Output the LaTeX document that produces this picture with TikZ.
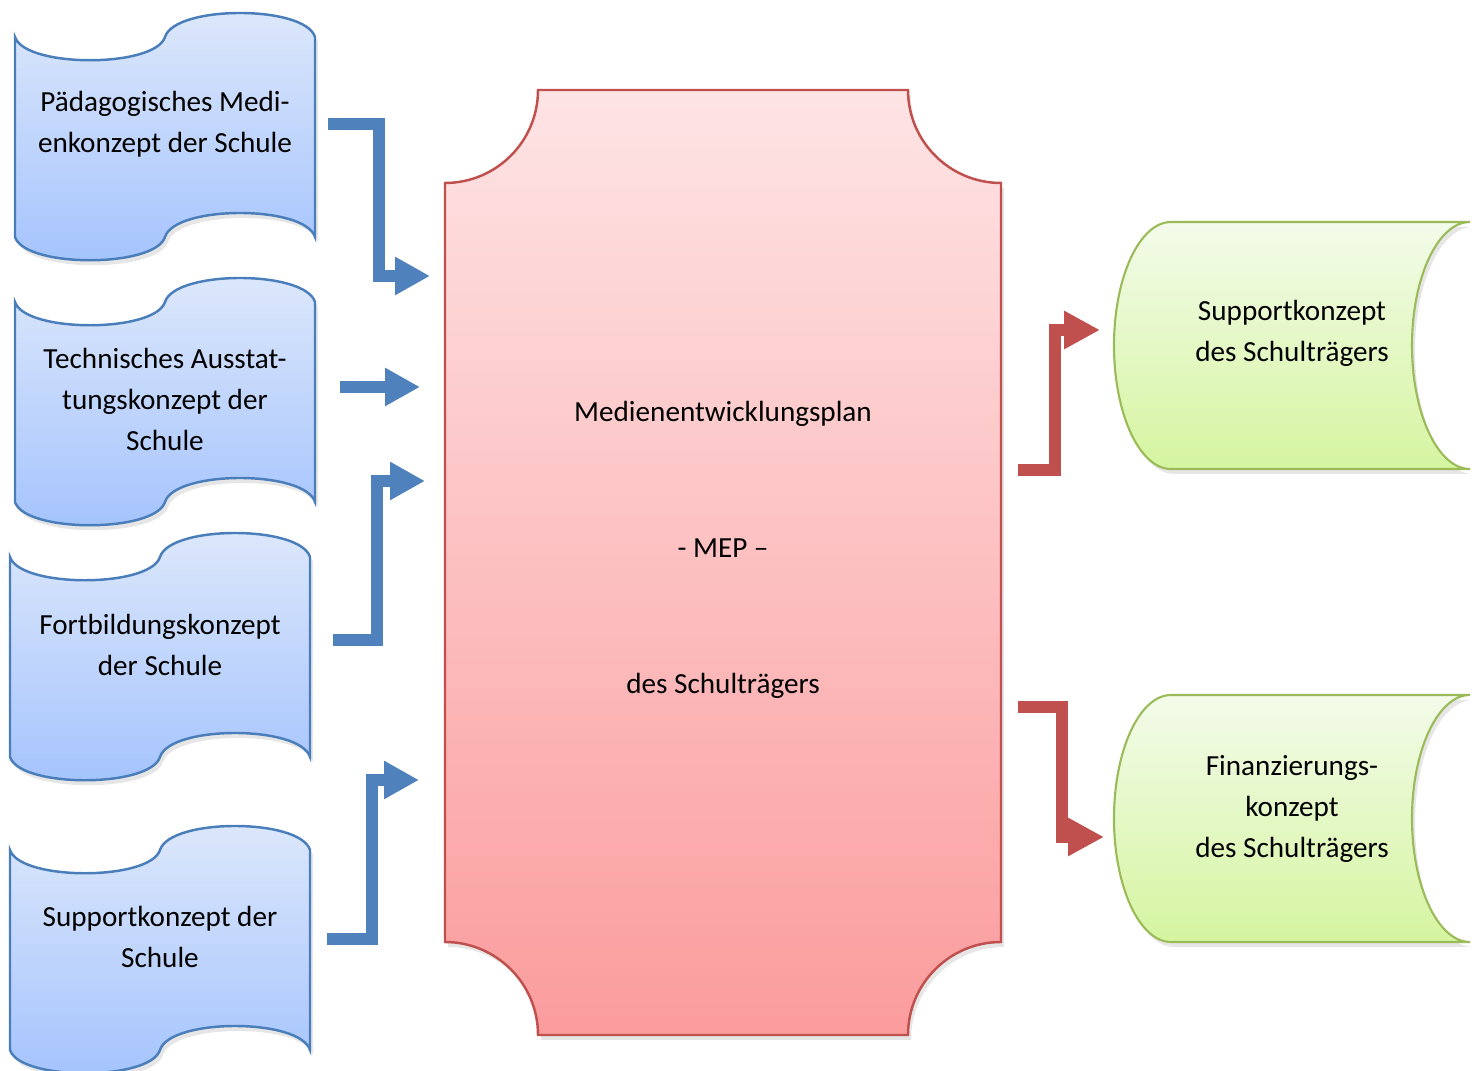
\documentclass[tikz,border=0pt]{standalone}
\usepackage{fontspec}
\setmainfont{Carlito}
\usepackage{xcolor}
\usetikzlibrary{arrows.meta,shadows}
\definecolor{tapeline}{HTML}{4A7EBB}
\definecolor{tapetop}{HTML}{DDE8FB}
\definecolor{tapebot}{HTML}{A4C3FD}
\definecolor{mepline}{HTML}{C0504D}
\definecolor{meptop}{HTML}{FEE4E5}
\definecolor{mepbot}{HTML}{FB9C9D}
\definecolor{storeline}{HTML}{9BBB59}
\definecolor{storetop}{HTML}{F3FBEA}
\definecolor{storebot}{HTML}{D5F5A0}
\definecolor{arrowblue}{HTML}{4F81BD}
\definecolor{arrowred}{HTML}{C0504D}
\tikzstyle{softshadow} = [drop shadow={shadow xshift=0.3mm, shadow yshift=-0.5mm, opacity=0.2}]
\tikzstyle{tape} = [draw=tapeline, line width=0.7pt, top color=tapetop, bottom color=tapebot, softshadow]
\tikzstyle{plaque} = [draw=mepline, line width=0.7pt, top color=meptop, bottom color=mepbot, softshadow]
\tikzstyle{store} = [draw=storeline, line width=0.6pt, top color=storetop, bottom color=storebot, softshadow]
\tikzstyle{label} = [inner sep=0pt, align=center, font=\fontsize{8.3}{11.67}\selectfont]
\tikzstyle{bluearrow} = [line width=0.12cm, arrowblue, -{Triangle[width=0.36cm,length=0.35cm]}]
\tikzstyle{redarrow} = [line width=0.12cm, arrowred, -{Triangle[width=0.36cm,length=0.36cm]}]

\begin{document}
\begin{tikzpicture}
            \useasboundingbox (0,0) rectangle (14.75,10.71);

            % punched tapes on the left
            \foreach \x/\y in {0.15/10.34, 0.15/7.69, 0.10/5.14, 0.10/2.21}
                \path[tape] (\x,\y) .. controls +(0.1,-0.31) and +(-0.1,-0.31) .. ++(1.5,0)
                    .. controls +(0.1,0.32) and +(-0.1,0.32) .. ++(1.5,0) -- ++(0,-2)
                    .. controls +(-0.1,0.32) and +(0.1,0.32) .. ++(-1.5,0)
                    .. controls +(-0.1,-0.31) and +(0.1,-0.31) .. ++(-1.5,0) -- cycle;

            % plaque in the middle
            \path[plaque] (4.45,8.88) arc[start angle=270, end angle=360, radius=0.93]
                -- (9.08,9.81) arc[start angle=180, end angle=270, radius=0.93]
                -- (10.01,1.29) arc[start angle=90, end angle=180, radius=0.93]
                -- (5.38,0.36) arc[start angle=0, end angle=90, radius=0.93] -- cycle;

            % stored data on the right
            \foreach \y in {8.49, 3.76}
                \path[store] (11.71,\y) -- (14.70,\y)
                    arc[start angle=90, end angle=270, x radius=0.58, y radius=1.235]
                    -- (11.71,\y-2.47)
                    arc[start angle=270, end angle=90, x radius=0.57, y radius=1.235] -- cycle;

            \node[label] (ped) at (1.65,9.465) {Pädagogisches Medi-\\enkonzept der Schule};
            \node[label] (tec) at (1.65,6.715) {Technisches Ausstat-\\tungskonzept der\\Schule};
            \node[label] (fob) at (1.60,4.265) {Fortbildungskonzept\\der Schule};
            \node[label] (sup) at (1.60,1.345) {Supportkonzept der\\Schule};
            \node[label, font=\fontsize{8.3}{38.7}\selectfont] (mep) at (7.23,5.21) {Medienentwicklungsplan\\- MEP –\\des Schulträgers};
            \node[label] (sst) at (12.92,7.375) {Supportkonzept\\des Schulträgers};
            \node[label] (fin) at (12.92,2.62) {Finanzierungs-\\konzept\\des Schulträgers};

            \coordinate (b1s) at (3.28,9.47);
            \coordinate (b1t) at (4.30,7.95);
            \coordinate (b2s) at (3.40,6.84);
            \coordinate (b2t) at (4.20,6.84);
            \coordinate (b3s) at (3.33,4.31);
            \coordinate (b3t) at (4.25,5.90);
            \coordinate (b4s) at (3.27,1.32);
            \coordinate (b4t) at (4.19,2.91);
            \coordinate (r1s) at (10.18,6.01);
            \coordinate (r1t) at (11.00,7.41);
            \coordinate (r2s) at (10.18,3.635);
            \coordinate (r2t) at (11.04,2.34);

            \draw[bluearrow] (b1s) -- ++(0.51,0) |- (b1t);
            \draw[bluearrow] (b2s) -- (b2t);
            \draw[bluearrow] (b3s) -- ++(0.44,0) |- (b3t);
            \draw[bluearrow] (b4s) -- ++(0.445,0) |- (b4t);
            \draw[redarrow] (r1s) -- ++(0.365,0) |- (r1t);
            \draw[redarrow] (r2s) -- ++(0.435,0) |- (r2t);
        \end{tikzpicture}
\end{document}
